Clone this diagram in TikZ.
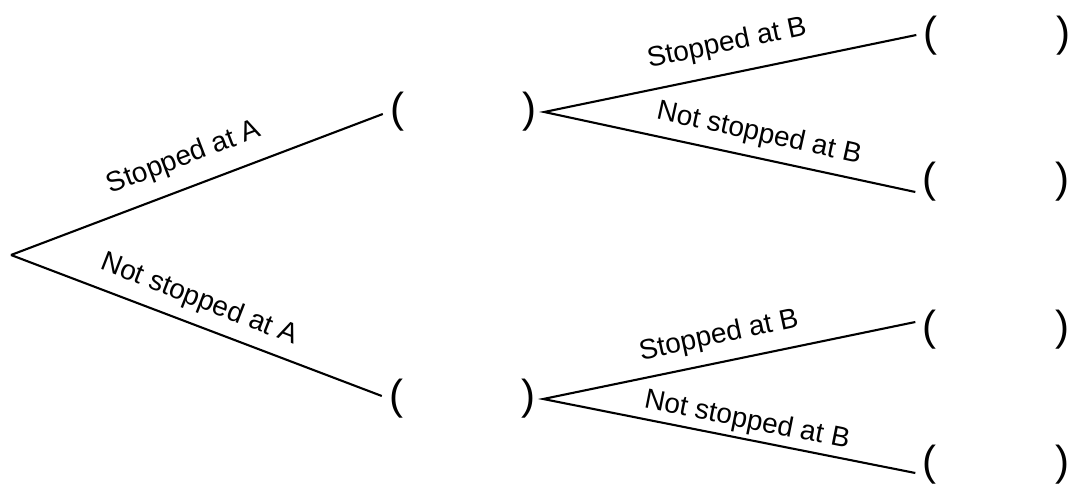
\documentclass[tikz,border=0pt]{standalone}
\usepackage{fontspec}
\setmainfont{Liberation Sans}
\begin{document}
\begin{tikzpicture}[x=1pt,y=-1pt,
  branch/.style={line width=2.1pt},
  par/.style={inner xsep=7pt,inner ysep=0pt,font=\fontsize{42}{50}\selectfont},
  lbl/.style={inner sep=0pt,font=\fontsize{28}{33}\selectfont}]
\useasboundingbox (0,0) rectangle (1070,486);
\coordinate (root) at (11,255);
\node[par] (A1) at (463.5,112) {\makebox[147pt]{(\hfill)}};
\node[par] (A2) at (462.5,399) {\makebox[147pt]{(\hfill)}};
\node[par] (B1) at (997,36) {\makebox[147pt]{(\hfill)}};
\node[par] (B2) at (996,182) {\makebox[147pt]{(\hfill)}};
\node[par] (B3) at (996,330) {\makebox[147pt]{(\hfill)}};
\node[par] (B4) at (996,465) {\makebox[147pt]{(\hfill)}};
\draw[branch] (root) -- ([yshift=-2pt]A1.west);
\draw[branch] (root) -- ([yshift=3pt]A2.west);
\draw[branch] ([yshift=1pt]B1.west) -- (A1.east) -- ([yshift=-10pt]B2.west);
\draw[branch] ([yshift=8pt]B3.west) -- (A2.east) -- ([yshift=-8pt]B4.west);
\node[lbl,rotate=20.9] (l1) at (184,158) {Stopped at A};
\node[lbl,rotate=-21.3] (l2) at (199,300) {Not stopped at A};
\node[lbl,rotate=11.8] (l3) at (727,44) {Stopped at B};
\node[lbl,rotate=-12.4] (l4) at (759,134) {Not stopped at B};
\node[lbl,rotate=12.1] (l5) at (719,336) {Stopped at B};
\node[lbl,rotate=-11.3] (l6) at (747,421) {Not stopped at B};
\end{tikzpicture}
\end{document}
